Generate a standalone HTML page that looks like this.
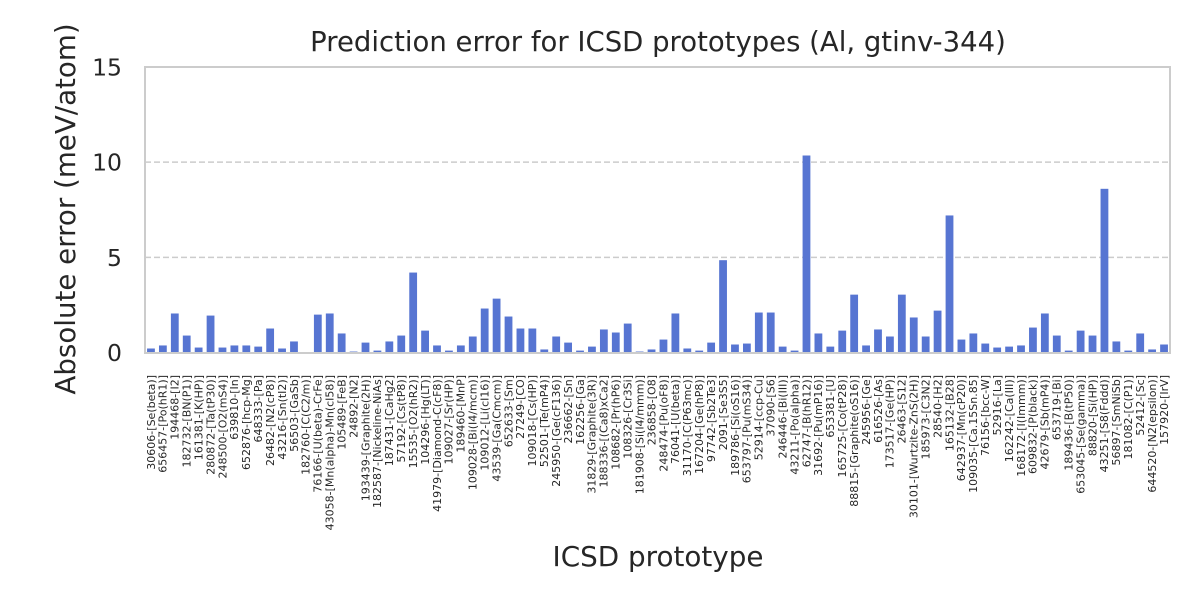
<!DOCTYPE html>
<html><head><meta charset="utf-8"><style>
body{margin:0;background:#fff;}
svg{display:block;font-family:"DejaVu Sans","Liberation Sans",sans-serif;}
</style></head><body>
<svg id="chart" width="1200" height="600">
<text x="658" y="51" text-anchor="middle" font-size="27.5" fill="#262626">Prediction error for ICSD prototypes (Al, gtinv-344)</text>
<text transform="translate(75,209) rotate(-90)" text-anchor="middle" font-size="27.7" fill="#262626">Absolute error (meV/atom)</text>
<text x="658" y="566" text-anchor="middle" font-size="27.8" fill="#262626">ICSD prototype</text>
<g id="grid"></g><g id="bars"></g><g id="yt"></g><g id="xt"></g>
<rect x="145" y="67" width="1025" height="286" fill="none" stroke="#cccccc" stroke-width="2"/>
</svg>
<script>
const categories=["30606-[Se(beta)]","656457-[Po(hR1)]","194468-[I2]","182732-[BN(P1)]","161381-[K(HP)]","280872-[Ta(tP30)]","248500-[O2(mS4)]","639810-[In]","652876-[hcp-Mg]","648333-[Pa]","26482-[N2(cP8)]","43216-[Sn(tI2)]","56503-[GaSb]","182760-[C(C2/m)]","76166-[U(beta)-CrFe]","43058-[Mn(alpha)-Mn(cI58)]","105489-[FeB]","24892-[N2]","193439-[Graphite(2H)]","182587-[Nickeline-NiAs]","187431-[CaHg2]","57192-[Cs(tP8)]","15535-[O2(hR2)]","104296-[Hg(LT)]","41979-[Diamond-C(cF8)]","109027-[Sr(HP)]","189460-[MnP]","109028-[Bi(I4/mcm)]","109012-[Li(cI16)]","43539-[Ga(Cmcm)]","652633-[Sm]","27249-[CO]","109018-[Cs(HP)]","52501-[Te(mP4)]","245950-[Ge(cF136)]","236662-[Sn]","162256-[Ga]","31829-[Graphite(3R)]","188336-[(Ca8)xCa2]","108682-[Pr(hP6)]","108326-[Cr3Si]","181908-[Si(I4/mmm)]","236858-[O8]","248474-[Pu(oF8)]","76041-[U(beta)]","31170-[C(P63mc)]","167204-[Ge(hP8)]","97742-[Sb2Te3]","2091-[Se3S5]","189786-[Si(oS16)]","653797-[Pu(mS34)]","52914-[ccp-Cu]","37090-[S6]","246446-[Bi(III)]","43211-[Po(alpha)]","62747-[B(hR12)]","31692-[Pu(mP16)]","653381-[U]","165725-[Co(tP28)]","88815-[Graphite(oS16)]","245956-[Ge]","616526-[As]","173517-[Ge(HP)]","26463-[S12]","30101-[Wurtzite-ZnS(2H)]","185973-[C3N2]","28540-[H2]","165132-[B28]","642937-[Mn(cP20)]","109035-[Ca.15Sn.85]","76156-[bcc-W]","52916-[La]","162242-[Ca(III)]","168172-[I(Immm)]","609832-[P(black)]","42679-[Sb(mP4)]","653719-[Bi]","189436-[B(tP50)]","653045-[Se(gamma)]","88820-[Si(HP)]","43251-[S8(Fddd)]","56897-[SmNiSb]","181082-[C(P1)]","52412-[Sc]","644520-[N2(epsilon)]","157920-[IrV]"];
const values=[0.21,0.37,2.05,0.89,0.26,1.94,0.26,0.37,0.37,0.31,1.26,0.21,0.58,0.02,1.99,2.05,1.0,0.05,0.52,0.1,0.58,0.89,4.2,1.15,0.37,0.1,0.37,0.84,2.31,2.83,1.89,1.26,1.26,0.16,0.84,0.52,0.1,0.31,1.21,1.05,1.52,0.05,0.16,0.68,2.05,0.21,0.1,0.52,4.85,0.42,0.47,2.1,2.1,0.31,0.1,10.35,1.0,0.31,1.15,3.04,0.37,1.21,0.84,3.04,1.84,0.84,2.2,7.2,0.68,1.0,0.47,0.26,0.31,0.37,1.31,2.05,0.89,0.1,1.15,0.89,8.6,0.58,0.1,1.0,0.16,0.42];
const yTicks=[0,5,10,15];
const gridVals=[5,10];
const NS="http://www.w3.org/2000/svg";
const L=145,R=1170,T=67,B=352.5,yMax=15;
const step=(R-L)/categories.length;
const xC=i=>L+step*(i+0.5);
const y=v=>B-(v/yMax)*(B-T);
function mk(t,a){const e=document.createElementNS(NS,t);for(const k in a)e.setAttribute(k,a[k]);return e;}
const grid=document.getElementById('grid');
gridVals.forEach(v=>{const l=mk('line',{x1:L,x2:R,y1:y(v),y2:y(v),stroke:'#cccccc','stroke-width':1.5,'stroke-dasharray':'6,3'});


grid.appendChild(l);});
const yt=document.getElementById('yt');
yTicks.forEach(v=>{const t=mk('text',{x:122,y:y(v)+8.5,'text-anchor':'end','font-size':23.5,fill:'#262626'});t.textContent=v;


yt.appendChild(t);});
const bars=document.getElementById('bars'),xt=document.getElementById('xt');
const bw=7.8;
values.forEach((v,i)=>{const r=mk('rect',{x:xC(i)-bw/2,y:y(v),width:bw,height:B-y(v),fill:'#5775d2'});


bars.appendChild(r);});
categories.forEach((c,i)=>{const t=mk('text',{transform:`translate(${xC(i)+3.8},375) rotate(-90)`,'text-anchor':'end','font-size':11,fill:'#262626'});t.textContent=c;


xt.appendChild(t);});
</script>
</body></html>
